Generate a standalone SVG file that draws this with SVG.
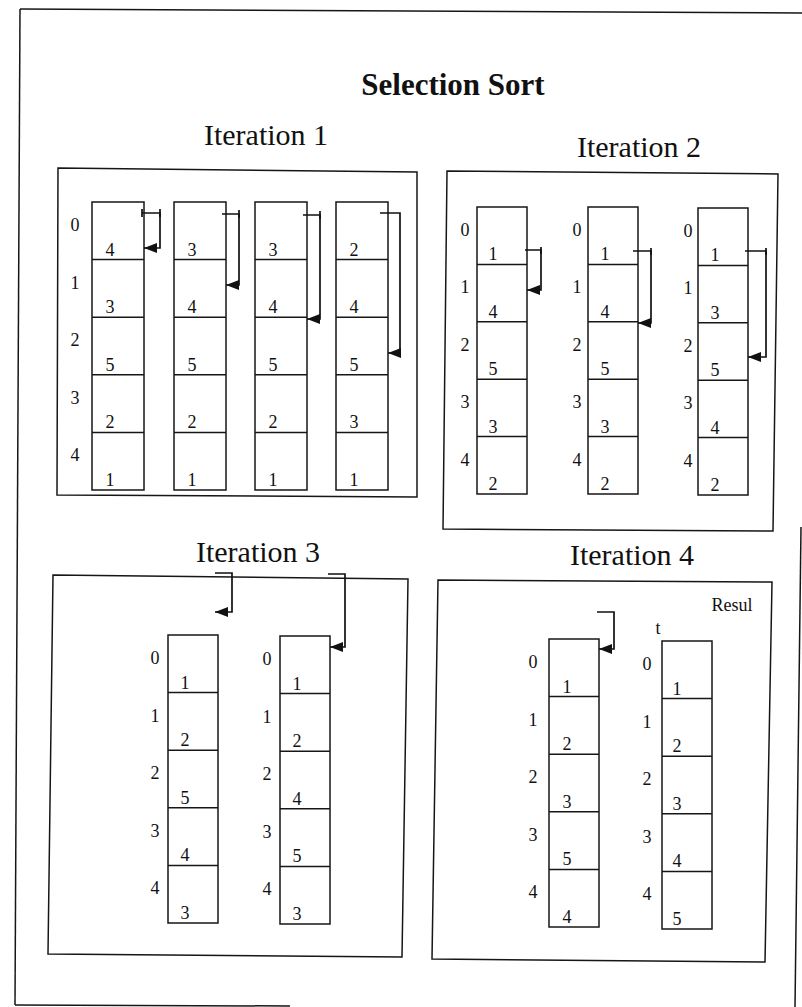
<svg xmlns="http://www.w3.org/2000/svg" width="802" height="1007" viewBox="0 0 802 1007">
<style>
.ln{fill:none;stroke:#161616;stroke-width:1.5}
.col rect,.col path{fill:none;stroke:#161616;stroke-width:1.5}
.t{font-family:"Liberation Serif","Times New Roman",serif;fill:#111;text-anchor:middle}
.n{font-size:18px}
.it{font-size:30px}
.ttl{font-size:31px;font-weight:bold}
.ar{fill:none;stroke:#111;stroke-width:1.7}
</style>
<defs>
<marker id="ah" markerUnits="userSpaceOnUse" markerWidth="14" markerHeight="11" refX="13" refY="5" orient="auto">
<path d="M0,0 L13,5 L0,10 z" fill="#111"/>
</marker>
</defs>
<rect width="802" height="1007" fill="#fff"/>
<g id="frame" class="ln">
<path d="M20 9 L802 13"/>
<path d="M20 9 L15 1005"/>
<path d="M15 1005 L290 1006"/>
<path d="M801 527 L795 1007"/>
</g>
<text class="t ttl" x="453" y="95">Selection Sort</text>
<text class="t it" x="266" y="145">Iteration 1</text>
<text class="t it" x="639" y="157">Iteration 2</text>
<text class="t it" x="258" y="562">Iteration 3</text>
<text class="t it" x="632" y="565">Iteration 4</text>

<g id="panel1"><path class="ln" d="M58 168 L417 172 L417 497 L57 495 Z"/></g>
<g id="panel2"><path class="ln" d="M447 171 L778 174 L773 531 L443 529 Z"/></g>
<g id="panel3"><path class="ln" d="M53 575 L408 579 L402 957 L48 954 Z"/></g>
<g id="panel4"><path class="ln" d="M438 580 L772 582 L765 962 L432 959 Z"/></g>

<!-- Iteration 1 -->
<g id="it1-labels" class="t n">
<text x="75" y="231">0</text><text x="75" y="288.6">1</text><text x="75" y="346.2">2</text><text x="75" y="403.8">3</text><text x="75" y="461.4">4</text>
</g>
<g id="it1-a" class="col"><rect x="92" y="202" width="52" height="288"/><path d="M92 259.6H144M92 317.2H144M92 374.8H144M92 432.4H144"/>
<g class="t n"><text x="110" y="255.6">4</text><text x="110" y="313.2">3</text><text x="110" y="370.8">5</text><text x="110" y="428.4">2</text><text x="110" y="486">1</text></g></g>
<g id="it1-b" class="col"><rect x="174" y="202" width="52" height="288"/><path d="M174 259.6H226M174 317.2H226M174 374.8H226M174 432.4H226"/>
<g class="t n"><text x="192" y="255.6">3</text><text x="192" y="313.2">4</text><text x="192" y="370.8">5</text><text x="192" y="428.4">2</text><text x="192" y="486">1</text></g></g>
<g id="it1-c" class="col"><rect x="255" y="202" width="52" height="288"/><path d="M255 259.6H307M255 317.2H307M255 374.8H307M255 432.4H307"/>
<g class="t n"><text x="273" y="255.6">3</text><text x="273" y="313.2">4</text><text x="273" y="370.8">5</text><text x="273" y="428.4">2</text><text x="273" y="486">1</text></g></g>
<g id="it1-d" class="col"><rect x="336" y="202" width="52" height="288"/><path d="M336 259.6H388M336 317.2H388M336 374.8H388M336 432.4H388"/>
<g class="t n"><text x="354" y="255.6">2</text><text x="354" y="313.2">4</text><text x="354" y="370.8">5</text><text x="354" y="428.4">3</text><text x="354" y="486">1</text></g></g>

<!-- Iteration 2 -->
<g id="it2-a" class="col"><rect x="477" y="207" width="50" height="287"/><path d="M477 264.4H527M477 321.8H527M477 379.2H527M477 436.6H527"/>
<g class="t n"><text x="465" y="236">0</text><text x="465" y="293.4">1</text><text x="465" y="350.8">2</text><text x="465" y="408.2">3</text><text x="465" y="465.6">4</text>
<text x="493" y="260.4">1</text><text x="493" y="317.8">4</text><text x="493" y="375.2">5</text><text x="493" y="432.6">3</text><text x="493" y="490">2</text></g></g>
<g id="it2-b" class="col"><rect x="588" y="207" width="50" height="287"/><path d="M588 264.4H638M588 321.8H638M588 379.2H638M588 436.6H638"/>
<g class="t n"><text x="577" y="236">0</text><text x="577" y="293.4">1</text><text x="577" y="350.8">2</text><text x="577" y="408.2">3</text><text x="577" y="465.6">4</text>
<text x="605" y="260.4">1</text><text x="605" y="317.8">4</text><text x="605" y="375.2">5</text><text x="605" y="432.6">3</text><text x="605" y="490">2</text></g></g>
<g id="it2-c" class="col"><rect x="698" y="208" width="50" height="287"/><path d="M698 265.4H748M698 322.8H748M698 380.2H748M698 437.6H748"/>
<g class="t n"><text x="688" y="237">0</text><text x="688" y="294.4">1</text><text x="688" y="351.8">2</text><text x="688" y="409.2">3</text><text x="688" y="466.6">4</text>
<text x="715" y="261.4">1</text><text x="715" y="318.8">3</text><text x="715" y="376.2">5</text><text x="715" y="433.6">4</text><text x="715" y="491">2</text></g></g>

<!-- Iteration 3 -->
<g id="it3-a" class="col"><rect x="168" y="635" width="50" height="288"/><path d="M168 692.6H218M168 750.2H218M168 807.8H218M168 865.4H218"/>
<g class="t n"><text x="155" y="664">0</text><text x="155" y="721.6">1</text><text x="155" y="779.2">2</text><text x="155" y="836.8">3</text><text x="155" y="894.4">4</text>
<text x="185" y="688.6">1</text><text x="185" y="746.2">2</text><text x="185" y="803.8">5</text><text x="185" y="861.4">4</text><text x="185" y="919">3</text></g></g>
<g id="it3-b" class="col"><rect x="280" y="636" width="50" height="288"/><path d="M280 693.6H330M280 751.2H330M280 808.8H330M280 866.4H330"/>
<g class="t n"><text x="267" y="665">0</text><text x="267" y="722.6">1</text><text x="267" y="780.2">2</text><text x="267" y="837.8">3</text><text x="267" y="895.4">4</text>
<text x="297" y="689.6">1</text><text x="297" y="747.2">2</text><text x="297" y="804.8">4</text><text x="297" y="862.4">5</text><text x="297" y="920">3</text></g></g>

<!-- Iteration 4 -->
<text class="t" x="732" y="611" font-size="18">Resul</text>
<text class="t" x="658" y="634" font-size="18">t</text>
<g id="it4-a" class="col"><rect x="549" y="639" width="50" height="288"/><path d="M549 696.6H599M549 754.2H599M549 811.8H599M549 869.4H599"/>
<g class="t n"><text x="533" y="668">0</text><text x="533" y="725.6">1</text><text x="533" y="783.2">2</text><text x="533" y="840.8">3</text><text x="533" y="898.4">4</text>
<text x="567" y="692.6">1</text><text x="567" y="750.2">2</text><text x="567" y="807.8">3</text><text x="567" y="865.4">5</text><text x="567" y="923">4</text></g></g>
<g id="it4-b" class="col"><rect x="662" y="641" width="50" height="288"/><path d="M662 698.6H712M662 756.2H712M662 813.8H712M662 871.4H712"/>
<g class="t n"><text x="647" y="670">0</text><text x="647" y="727.6">1</text><text x="647" y="785.2">2</text><text x="647" y="842.8">3</text><text x="647" y="900.4">4</text>
<text x="677" y="694.6">1</text><text x="677" y="752.2">2</text><text x="677" y="809.8">3</text><text x="677" y="867.4">4</text><text x="677" y="925">5</text></g></g>

<g id="connectors" class="ar">
<path d="M142 213 H160 V248 H144" marker-end="url(#ah)"/>
<path d="M222 214 H239 V285 H226" marker-end="url(#ah)"/>
<path d="M303 215 H320 V319 H307" marker-end="url(#ah)"/>
<path d="M380 213 H400 V353 H388" marker-end="url(#ah)"/>
<path d="M525 250 H541 V290 H527" marker-end="url(#ah)"/>
<path d="M633 251 H651 V323 H638" marker-end="url(#ah)"/>
<path d="M745 251 H766 V357 H748" marker-end="url(#ah)"/>
<path d="M215 573 H232 V612 H215" marker-end="url(#ah)"/>
<path d="M328 574 H345 V647 H330" marker-end="url(#ah)"/>
<path d="M597 612 H614 V649 H599" marker-end="url(#ah)"/>
<path d="M142 209 V217M160 209 V217M239 210 V218M320 211 V219M541 247 V254M651 248 V255M766 248 V255"/>
</g>
</svg>
